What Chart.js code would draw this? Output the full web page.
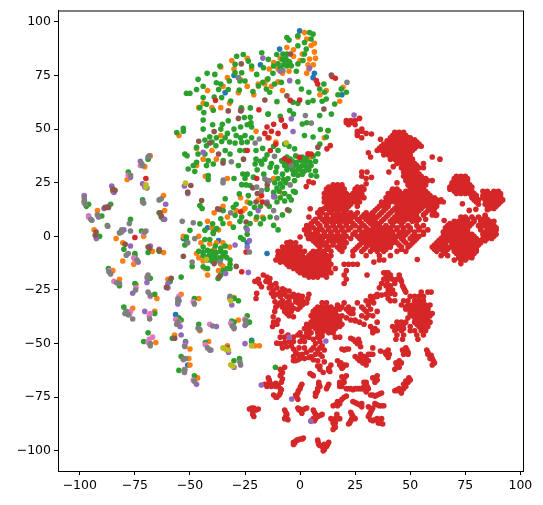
<!DOCTYPE html>
<html>
<head>
<meta charset="utf-8">
<style>
  html, body { margin: 0; padding: 0; background: #fff; }
  canvas { display: block; }
</style>
<script src="https://cdn.jsdelivr.net/npm/chart.js@4"></script>
</head>
<body>
<canvas id="tsne" width="543" height="505"></canvas>
<script>
// Tick labels
const xTicks = [-100, -75, -50, -25, 0, 25, 50, 75, 100];
const yTicks = [-100, -75, -50, -25, 0, 25, 50, 75, 100];

// Points, one list per class, [x, y]
const blue = [[-56.5,-36.5],[-22,-48.5],[-51,-60],[5.9,74],[-9.3,87.3],[-0.2,95.8],[-18,80],[-30,75],[-34,67],[-53,-1],[-37,-2],[-24,-3],[-15,-8],[-42,4],[6.5,76],[19,66]];

const orange = [
[-68,37.5],[-70.5,32.5],[-78.5,26.5],[-85,21],[-92,12],[-93.5,3],[-83.5,-1],[-71,0],[-62,19],[-61.5,12],
[-80.5,-3],[-62,-7.5],[-67,-7],[-80.5,-11.5],[-75.5,-13],[-85,-16],[-82,-20],[-74.5,-22.5],[-65,-29],[-54,-27],
[-76,-33.5],[-66,-35],[-45.5,-44],[-57,-46],[-65.5,-49.5],[-50,-52.5],[-41.5,-49],[-33,-51],[-18.5,-51],[-20.5,-51],
[-50.5,-57],[-50,-60],[-46.5,-66],[-60,-20],[-28,-39],[-46,-29],[-30,-28.5],
[-45,-3],[-41,-3.5],[-38,-3],[-35,-3],[-47,-8],[-46,-10],[-44,-11.5],[-36,-13],[-35,-14],[-43,-15],[-39,-6],[-32,-5],
[-53,0],[-46,0],[-37,3],[-42,7],[-39,11],[-29,12],[-26,12],[-35,14],[-20,8],[-17,9],[-8,20],[-24,16],
[-47,41],[-44,36],[-47,33],[-43,28],[-36,47],[-55,47],[-42,68],[-44,62],[-46,60],[-32,62],[-33,74],[-36,79],[-22,78],
[-19,71],[-16,71],[-15,73],[-12,81],[-10,78],[-14,78],[-6,88],[-3,87],[0,82],[1,85],[3,92],[5,89],[6.5,90],[3.6,80],[4.3,82.7],[4,78],
[2,95],[-1,93],[6.5,86],[7,83],[6,80],[3,76],[11.9,68],[19.5,69.5],[18,63],[12.7,49.3],[-30,78],[-24,70],[-14,46],[-11,44],[5,37],[-12,27],[11,46],[9,66],[-8,76],[-5,77],[-9,83],[-3,84],
[-31,82],[-24,83],[-27,73],[-35,70],[-40,60],[-36,60],[-28,67],[-21,66],[-13,70],[-10,72],[-8,68],[-20,49],[-40,40],[-38,36],[-33,27],[-27,18],[-19,17],[-33,9],[-25,13],[-40,4],[-32,6],[-42,-18],[-37,-16]
];

const green = [
[-6,92.7],[-5,91.5],[-1,93.5],[4.3,95],[5.9,94.3],[5,92],[2,90.4],[-1,88.9],[2.8,87.3],[-7.8,85],[2,85],[-7,82],[-4.7,81],[-1,80.4],[1.3,82],[-1.7,77],[-10,80.4],[-12.3,76],[-8.5,71.8],[-11.6,71],[-16.9,71.8],[-14.6,73.4],[-15.3,68.7],[-13.8,67.2],[-21.4,67.5],[-1,72.1],[0.6,68.7],[4,67.2],[-3.2,62.5],[-1,62],[3.6,62.5],[5.9,63.3],[-10.5,62.8],[10.8,71],[8.9,68.7],[11.1,67.2],[11.9,64],[10,63],[18.7,68.7],[17.2,66],[21,67.2],[15.7,61.7],[8.9,56.3],[14.2,57],[-4.7,58.7],[-3,57],[-14.6,57],[-22.6,59.9],[-26.7,59.9],[-22.6,55.5],[1,52.4],[3,53],[9.2,49.8],[12.7,49.3],[11.9,46.3],[5.9,46.3],[9,43],[2,47],[-2.5,40.8],[8.1,38.5],
[-8,82.5],[-6.5,83],[-5,81.5],[-7.5,80],[-6,79.5],[-4,79.5],[-9,78.5],[-6,85],[-10.6,84.8],[-14.4,82.5],[-17.4,85.6],[-19.7,75.5],[-16.6,78.6],[-12,79.4],[-18.9,70.1],
[-28.8,84],[-25.8,84.8],[-23.5,81.7],[-22,79.4],[-29.5,80.2],[-29.5,76.3],[-26.5,76.3],[-25,72.4],[-27.3,72.4],[-32.1,72.4],[-36.4,79.4],[-42.2,76],[-38.7,75.5],[-38,71.6],[-36,71],
[-46.3,73.2],[-44,70],[-47,68.5],[-51.6,66.7],[-50,66.7],[-37,68.5],[-32.6,68.5],[-27.6,68.2],[-44,64.7],[-42.5,61.6],[-45.5,60],[-43.7,57.7],[-39.4,58.8],[-39,65],[-35.6,64.7],[-31.5,63.1],
[-32.6,53.9],[-26.5,59.3],[-25.3,55.4],[-22.3,53],[-44,54.2],[-39.7,52],[-35.3,52.3],[-44,50],[-53,50.4],[-56,48.4],[-53,49],
[-36,50],[-33,48],[-30,50],[-27,51],[-24,52],[-22,51],[-34,46],[-29,47],[-27,46],[-25,47],[-24,44],[-22,46],[-38,46],[-41,46.4],[-40,44],[-32,44],[-43.2,44.9],[-35.6,44.2],[-29.5,43.5],[-26.5,43.8],
[-47,41.5],[-42.5,42.2],[-38.2,42.2],[-34,40],[-31.8,38.4],[-52.3,38.4],[-51.3,37.6],[-43.2,38.4],[-46.3,38.4],[-27.3,40],[-25,40],[-41.7,35.3],[-39.4,33.7],[-47,34.5],[-48.5,33],[-50.8,31.4],[-47.8,30.2],[-42.5,33],[-41.7,28.3],[-41.7,26.5],[-34.9,35.3],
[-20.4,33.7],[-17.4,33.7],[-19.5,31],[-16.5,29],[-13.6,32.2],[-10.6,32.2],[-8.3,35.3],[-20,36],[-16,36],[-26,29.1],[-24,29],[-21.2,27.6],[-26.5,24.1],[-24.5,24],[-22.7,23.7],[-15,22],
[-34,17.5],[-27.6,19.8],[-23.5,19],[-2.2,20.6],[-45.5,14.4],[-44.5,13],[-34.9,12],[-30.3,13.6],[-29,15],[-22.7,15.5],[-20.7,13.6],[-18,14],[-22.7,10.5],[-19.7,9],[-16.6,8.2],[-13.6,9],[-12,5.1],[-18,5.9],[-29.5,9.8],[-26.5,9],[-30.3,4.3],[-27.3,7],[-22.7,6],[-24.5,4],
[-36,8.2],[-35,6],[-39.7,5.9],[-37.9,3.6],[-39.4,2],[-45.5,5.9],[-43.2,2.8],[-50,2.8],[-51.6,-0.3],[-52.3,-4],[-51.6,-1.8],[-43.2,-1.5],[-41,-1.5],[-39.4,1.3],[-25.8,-1.5],[-27,-0.5],
[-31.8,-13],[-31.8,-15],[-31.8,-11],[-33.3,-9.9],[-44,-14.2],[-42,-15],[-34.9,-15.8],[-37.2,-19.6],[-36,-18],[-33,-15],[-49,-14],[-11.2,-61],
[-6,37],[-4.5,36],[-2,37.5],[1,37],[3,36.5],[6,37.5],[-8,35],[-6,34.5],[-3.5,35],[-1.5,34.5],[0.5,35.5],[2.5,35],[4.5,34.5],[7,35],[-7,33],[-5,32.5],[-3,33],[-1,32.5],[1,33],[3,32.5],[5,33],[-6,31],[-3.5,31],[-2,30.5],[0,31],[2,30.5],[4,31],[7,30.5],[-3,29],[-1,28.5],[1,29],[5,28.5],[7.5,28],[-18,35],[-13,34],[-11,30],[-8,29],
[-10,27],[-7.5,26.5],[-5.5,27],[-2.5,26],[-11.5,25],[-9,24.5],[-6.5,25],[-10.5,22.5],[-8,23],[-12,20.5],[-9.5,21],[-7,20],[-3,21],[-11.5,18.5],[-9,18],[-5,18.5],[-10.5,16],[-7,16.5],[-4,17],
[-44,-5],[-38.5,-4.5],[-36,-5.5],[-34,-4.5],[-46,-7],[-44,-7.5],[-42,-6.5],[-40,-7],[-38,-7.5],[-36,-7],[-34,-7.5],[-44,-9],[-42,-9.5],[-41,-8.5],[-40,-9.5],[-39,-9],[-37,-10],[-35,-9],[-42,-11],[-40,-11.5],[-38,-11],[-36,-10.5],
[-14.4,57],[-9,56],[-5,42],[-7,43],[-20,40],[-17,41],[-12,42],[-10,40],[-15,38],[-28,33],[-30,27],[-25,27],[-5,12],[-8,10],[-14,14],[-24,1],[-10,3],
[-98,16],[-96,15],[-97,14],[-86,15],[-90,9.5],[-87.5,5],[-91,0],[-81,2],[-77,8],[-72,2.5],[-78,30],[-69,36],[-71.5,17],[-64,11],[-62,8],[-63,9],[-64,-7],[-69,-7.5],[-80,-6],[-75,-8],[-87,-15],[-82,-23],[-68,-19.5],[-59,-21],[-66,-27],[-80,-33],[-66,-36],[-55,-38],[-54,-39],[-46,-41],[-30,-40],[-31,-39.5],[-24,-37],[-23,-40],[-69,-45],[-71,-49],[-58,-47.5],[-52,-49],[-43,-49.5],[-22,-49],[-54,-56],[-55,-62.5],[-48,-65],[-30,-58],[-27.5,-57],[-30,-29],[-28,-30],[-48,-29],[-54,-19],[-75,-9],[-75,-22],[-55,-30]
];

const red = [
[39.5,44.6],[36.5,45.3],[32.4,47.7],[60,37],[63.5,36],[56,34],[56,32],[42.3,32.5],[40.3,30],[31,39],[32,37],[26,49],[28,50],[30,48],[26,47],[28,46],
[21,53],[23,54],[25,54],[27,55],[22,52],[25,52],[23,53],[28,30],[30.4,30],[32.4,27.5],[28,28],[30,27],[30,24.5],[41.8,21.4],[44,25],[4.6,12.9],[9.2,12.4],
[73.7,15.2],[76.8,12.1],[79.8,12.6],[85,12.4],[84,9.8],[73,-12.7],[70,-11],[53.2,-10.8],[65.4,7.4],[61.6,9.8],[57,8],
[-4.5,-2.6],[0,-0.3],[3.8,-1],[20,-13],[22,-13],[24,-13],[26,-13],[21,-16],[20,-18],[21,-20],[20,-22],[30.4,-18],[33.5,-12],[36,-11],[38,-11],[38,-17],[40,-17],[39,-19],[41,-19],[39.5,-22],[45.6,-20],[45,-18],
[-20.5,-21],[-18.5,-22],[-17.5,-23.5],[-16.7,-18],[-15,-19],[-13.7,-19.7],[-12.9,-22.8],[-14,-24],[-12.2,-25],[-10.5,-24],[-9.1,-26],[-8,-24.5],[-7,-27],[-5,-25.5],[-4,-28],[-2,-29],[-0.8,-27.5],[-19.7,-26.6],[-20,-29],
[-11.4,-30.5],[-10,-32],[-8,-30],[-6,-31],[-8,-33],[-6,-34],[-4,-32],[-2,-30.5],[-4,-35],[-3,-37.5],[-6,-36],[0,-33],[2,-31],[3.5,-29],[1,-30],[-1,-34],[-12.2,-37.5],[-11.5,-35],[-12,-40],[-10,-39],
[17,-32],[18,-34],[20,-31],[21,-34],[23,-36],[19,-37],[22,-33],[24,-34],[21,-38],[26,-31],[28,-33],[30,-35],[32,-34],[30,-30],[32,-30],[34,-28],[35,-27],[30,-38],[28,-37],[23,-39],[25,-39.5],[27,-40],[29,-41],
[32,-28],[35,-28],[33.4,-31],[31,-36.7],[33,-37],[35,-35],[35,-40],[32,-42],[34,-43],[33,-45],[35,-44],[37,-27.4],[39,-27],[41,-26.6],[41,-30],[39,-17],[41,-18],[38,-20],[40,-20],[42,-20],[39,-23],[41,-23],[43,-22],[36,-24],[45,-19.5],[46,-21],[47,-24],[48,-26],
[-8.4,-44.4],[-10.6,-49.8],[-7,-47],[-5.5,-46],[-1,-46],[-8,-52],[-6,-51.5],[-4,-51],[-3,-49],[-2,-54],[-3,-56],[-2,-58],[-0.5,-52],[1,-47],[2,-49],[2,-52],[1,-55],[-1,-57.5],[0,-57],[2,-57],[4,-56.5],
[5,-53],[7,-50],[8,-53],[7,-55],[5,-56],[9,-55],[10,-56],[8,-47],[10,-51],[11,-58.5],[10,-46.5],[8,-44],[19,-52.5],[21,-52.5],[22,-52.5],[23,-47.5],[25,-49],[27,-49.5],[27.5,-51.5],[33,-52],
[25,-56],[27,-57],[28.5,-59],[30,-60],[30,-57],[31,-55],[33,-55],[29,-58],[27.5,-55],[36.5,-53.5],[38.5,-54],[40,-53],[40.5,-55],[40,-56.5],[46.5,-53],[48.5,-53],[47,-55],[49,-55],[48,-52],
[43.5,-59],[45,-58],[44,-61],[45,-61],[43,-62],[57.5,-53],[58,-55],[59,-57],[60.5,-58],[60,-60],[61,-59],[17,-58],[18,-60],[20,-60],[21,-60],[19,-61.5],[8,-60.5],[9,-62],[10.5,-63.5],[13,-61.5],[13.5,-63],[14,-60],[4.5,-64],[6,-65],
[-9,-62],[-8,-63.5],[-9,-65],[-8,-66.5],[-7,-61],[-14.4,-66],[-14,-68],[-16,-69],[-12.5,-69],[-10,-69.5],[-9,-71],[-11,-70],[-12,-74],[-10.5,-75],[-9,-73],[-8.5,-71.5],[0.8,-69],[-0.8,-72],[-1.5,-75],[0,-71],[-2,-74],
[8.5,-68],[9,-70],[8,-72],[7,-73],[7,-74.5],[13,-69],[12,-71],[19,-65.5],[21,-65],[18,-68],[20,-68],[18,-70],[22,-71],[24,-71.5],[26,-71],[28,-71],[29,-70],[30,-69],[31,-71],[30,-72.5],[29,-68],
[33,-66],[35,-65],[35,-67],[34,-68],[32,-74],[34,-74.5],[36,-73.5],[37,-73],[49.4,-66],[43,-72],[45,-71],[47,-71],[46,-73],[48,-68.5],[49,-68],[50,-67],[47,-69],[44.5,-72],
[15,-79],[17,-79],[17,-77],[19,-76],[21,-74.5],[18,-78],[24,-77],[26,-78],[28,-78],[28,-79.5],[-1,-80],[1,-81],[3,-80],[0.8,-82.5],[-0.5,-81],
[-23,-80.5],[-21,-80],[-19,-80.5],[-21.5,-82],[-21,-84],[-7,-81],[-6,-83],[-7,-85],[-5.5,-85.5],[6,-81],[7,-83],[8,-84],[10,-83],[6.5,-86],[5,-86],
[14,-85],[16,-85],[18,-85],[15,-87],[16,-89],[15,-90],[16.7,-83],[23,-82],[24,-84],[23,-86],[22,-87.5],[25,-85],[34,-78],[36,-79],[38,-79],[33,-80],[32,-82],[31,-84],[33,-86],[35,-85],[37,-85],[37.5,-87.5],[35.5,-87],[31,-79.5],
[-3,-96],[-1.5,-95],[0,-94.5],[1.5,-94],[-3,-97],[8,-95],[8.5,-97],[10,-98],[11,-99.5],[12,-98],[13,-96],[10.5,-100],
[-75,-0.5],[-70,27],[-26.5,-16.5],[-24.5,-7.3],[-38.4,63.4],[-4.5,63.4],[-0.2,63.6],[-18.7,59],[-8.5,54.3],[-7,51.7],[-12,52.3],[-6.8,51.2],[-15,51],[-16,48],[-13,49],[-10,48],[-14.5,46],[-11,43],[-13.5,40],[-24,40],[-7,36.2],[-5,35],[-19.7,27],[-17.5,19],[-17,16],[-27,11.5],
[7.4,72.6],[8,71],[16,73.7],[14.5,74.5],[3.6,38.5],[5,38.4],[-0.3,36.8],[12.2,40.8],[13.7,42.3],[4,25.5],[2.8,23.2],[6,25],[26,47.8],[28,49],[21,54],
[-19,-20],[-15.5,-21],[-14,-21.5],[-11,-22],[-13,-26.5],[-11,-27],[-9,-28],[-7,-25],[-6,-28],[-5,-30],[-3,-27],[-1,-31],[-7,-32],[-5,-33],[-3,-33.5],[-7,-35],[-5,-37],[-11,-33],[-9,-31],[-12,-28],[1,-28],[3,-31],[4,-27],[-1,-29],[1,-32],[-12.5,-42],[-10.5,-41],
[-9,-47],[-9,-50],[-7,-49.5],[-5,-49],[-3,-47],[0,-49],[0,-45],[-3,-52.5],[-1,-55],[-3,-58],[3,-54],[6,-52],[6,-48],[9,-49],[8,-58],[6,-57.5],[9,-52],[11,-53],
[20,-53],[24,-48],[26,-50],[26.5,-48],[27,-58],[26,-57],[29,-56],[32,-55],[31,-58],[39,-55],[47,-54],[49,-54],[44,-60],[46,-59],[58,-54],[59.5,-55.5],[60,-57],[18.5,-59],[19.5,-61],[9,-60.5],[13,-62.5],[5.5,-64.5],
[-8.5,-62.5],[-8.7,-64.5],[-8.5,-68],[-14,-67],[-15,-70],[-13,-70],[-11,-68.5],[-11,-75],[-9.5,-74],[0.2,-70],[-1,-73],[-1,-76],[8.5,-69],[8,-71],[7.5,-73],[12.5,-70],[20,-66],[19,-68],[18,-69],[19,-70],[21,-71],[23,-71],[25,-71],[27,-71],[29.5,-71.5],[30.5,-70],[30,-68],[34,-66],[33,-74],[35,-74],[44,-71.5],[46,-71.5],[48,-70],[49.5,-66.5],[48,-67.5],
[16,-78.5],[18,-77],[20,-75],[25,-77.5],[27,-78.5],[0,-80.5],[2,-80.5],[-22,-80],[-20,-81],[-21.5,-83],[-6.5,-82],[-6.5,-84],[-6,-85],[6.5,-82],[7.5,-84],[9,-83.5],[6,-85],[7,-85],[15,-86],[17,-85],[16,-87],[15.5,-88],[23.5,-83],[23.5,-85],[22.5,-87],[35,-78.5],[37,-79],[32.5,-81],[31.5,-83],[32,-85.5],[34,-85.5],[36,-85.5],[36.5,-87],[-2,-95.5],[-1,-95],[1,-94.5],[8.2,-96],[9,-97.5],[11,-98.5],[12.5,-97],[11,-97],[-2.5,-96.5],
[17,-33],[19,-33],[24,-36],[22,-35],[29,-34],[31,-32],[33,-29],[25,-39],[34,-44],[33,-43.5],[40,-25],[42,-25],[43,-27],[40,-29],[37,-22],[44,-20],[46.5,-23],[47.5,-25]
];

// dense parts of the red class, rows are [y, x, x, x...]
const redRows = [
[48.5, 43,45,47],[46, 41,43,45,47,49,50],[44, 41,43,45,47,49,51,53],[42, 37,39,41,43,45,47,49,51,53,55],[40, 35,37,39,41,43,45,47,49,51],[38, 38,40,42,44,46,48,50],
[36, 41,43,45,47,49,51],[34, 44,46,48,50,52],[32, 46,48,50,52,54],[30, 47,49,51,53],[28, 47,49,51,53,55],[26, 48,50,52,54,56,58,60],[24, 49,51,53,55,57],[22, 42,44,50,52,54,56],
[47, 42,44,46,48],[45, 42,44,46,48,50,52],[43, 38,40,42,44,46,48,50,52,54],[41, 36,38,40,42,44,46,48,50,52],[39, 39,41,43,45,47,49],[37, 42,44,46,48,50],[35, 45,47,49,51],[33, 47,49,51,53],[31, 48,50,52],[29, 48,50,52,54],[27, 49,51,53,55,57],[25, 50,52,54,56],[23, 50,52,54,55],
[20, 40,42,44,46,48,50,52,54,56,58],[18, 39,41,43,45,47,49,51,53,55,57,59,61],[16, 37,39,41,43,47,49,51,53,55,57,59,61,63,65],[14, 36,38,40,44,46,48,50,52,54,56,58,60,62],
[12, 34,38,42,44,46,48,50,52,54,58,60],[10, 32,36,40,44,46,48,50,52,56,60,62],[8, 30,34,38,42,44,46,48,50,52,54],
[21, 43,45,48,51,53,55,57],[19, 41,43,45,47,49,51,53,55,57,59],[17, 40,42,45,48,50,52,54,56,58,60,62,64],[15, 37,39,45,47,49,51,53,55,57,59,61],[13, 35,39,43,45,47,49,51,53,55,59,61],[11, 33,37,41,45,47,49,51,53,57,61],[9, 31,35,39,43,45,47,49,51,53],[7, 33,37,41,43,45,47,51,53],
[24, 15,17,19],[22, 12,14,16,18,20,25,27,29],[20, 11,13,15,17,19,21,24,26,28],[18, 11,13,15,17,19,21,23,25,27,29],[16, 11,13,15,17,19,21,23,25,27],[14, 12,14,16,18,20,22,26],[12.5, 10,13,15,19,21],
[23, 13,15,17,19,26,28],[21, 12,14,16,18,20,25,27],[19, 12,14,16,18,20,22,24,26,28],[17, 12,14,16,18,20,22,24,26],[15, 13,15,17,19,21,23],[13, 11,14,16,18,20],
[11, 8,10,14,17,20,23,26,30,33],[9, 4,9,12,15,18,21,24,28,32],[7, 6,11,14,17,20,23,27,31],[5, 3,5,9,12,15,18,21,25,29,33,36,39,42,46,49,53,56],[3, 2,4,8,10,13,16,19,22,27,31,33,35,37,39,41,44,47,50,54,58],
[1, 3,5,8,11,14,17,20,24,28,30,32,34,36,38,40,42,45,48,52,56],[-1, 5,8,10,13,16,19,23,27,29,31,33,35,37,39,41,43,46,50,53],[-3, 7,9,12,15,18,21,28,30,32,34,36,38,40,42,44,48,51],[-5, 9,13,17,20,26,30,33,35,37,39,41,46,49],[-7, 14,19,24,28,32,35,38,44,48],[-9, 24,30,36,41],
[10, 9,12,16,19,22,25,29,33],[8, 7,10,13,16,19,22,26,30],[6, 5,8,12,15,18,21,24,28,32,35],[4, 3,6,9,13,16,19,23,27,30,34,36,38,41,44,47,50,54],[2, 4,7,11,14,17,20,25,29,32,34,36,38,40,42,46,49,52,56],[0, 6,9,12,15,18,21,26,30,32,34,36,38,40,42,44,47,51,54],[-2, 6,10,14,17,20,28,30,32,34,36,38,40,43,47,52],[-4, 8,11,15,19,27,31,33,35,37,39,41,45,50],[-6, 12,18,25,29,33,36,39,46],
[28, 71,73,75],[26, 70,72,74,76],[24, 69,71,73,75,77],[22, 68,70,72,74,76],[20, 71,73,75,77,79],[21, 83,85,88,90],[19, 78,80,83,85,87,89,91],[17, 79,81,84,86,88,90,92],[15, 81,84,86,88,90],[13, 86,88],
[27, 70,72,74,76],[25, 69,71,73,75],[23, 68,70,72,74,76,78],[21, 70,72,74,76,78],[20, 84,87,89,91],[18, 78,80,83,85,87,89,91],[16, 80,85,87,89,91],[14, 85,87,89],
[9, 73,75,78,81,84],[7, 70,72,74,76,79,82,84,86,88],[5, 67,69,71,73,75,77,81,84,86,88],[3, 66,68,70,72,74,76,82,85,87,89],[1, 66,68,70,72,75,78,83,85,87,89],[-1, 64,66,69,71,73,75,77,80,83,85,87],[-3, 62,64,66,69,72,74,76,78,80,82],[-5, 60,62,65,68,72,74,76,78,80],[-7, 62,66,70,72,74,76,78,80],[-9, 64,67,72,74,76,78],[-11, 73,75],
[8, 74,76,79,82,85],[6, 68,71,73,75,78,83,85,87],[4, 66,68,70,72,74,76,82,85,87,89],[2, 65,67,69,71,73,76,84,86,88],[0, 65,67,70,72,74,76,79,84,86,88],[-2, 63,65,67,70,72,74,76,78,81,84],[-4, 61,63,66,69,71,73,75,77,79,81],[-6, 61,64,67,70,72,74,76,78,80],[-8, 65,71,73,75,77,79],[-10, 72,74,76,78],
[-3, -6,-4,-2],[-5, -8,-6,-4,-2,0],[-7, -10,-8,-6,-4,-2,0,2,6,8,10],[-9, -10,-8,-6,-3,-1,1,4,6,8,10,12,14],[-11, -11,-9,-7,-5,-3,-1,1,3,5,7,9,11,13],[-13, -6,-4,-2,0,2,4,6,8,10,12,14],[-15, -3,-1,1,3,5,7,9,11,13,16],[-17, 0,2,4,6,8,10,12,14],[-19, 4,6,8,12],
[-6, -7,-5,-3,-1],[-8, -9,-7,-5,-2,0,5,7,9,11],[-10, -10,-8,-6,-4,-2,0,2,5,7,9,11,13],[-12, -9,-7,-5,-3,-1,1,3,5,7,9,11,13],[-14, -5,-3,-1,1,3,5,7,9,11,13],[-16, -1,1,3,5,7,9,11,13],[-18, 2,4,6,8,10],
[-31, 10,12],[-33, 8,10,12,14],[-35, 6,8,10,12,14,16],[-37, 5,7,9,11,13,15,17],[-39, 6,8,10,12,14,16,18],[-41, 3,5,7,9,11,13,15,17,19],[-43, 2,4,7,9,11,14,16],[-45, 3,5,8,10,13,15],[-47, 2,4,9,16,18],
[-34, 7,9,11,13,15],[-36, 6,8,10,12,14,16],[-38, 6,8,10,12,14,16],[-40, 5,7,9,11,13,15,17],[-42, 3,5,8,10,12,14,16,18],[-44, 4,8,10,12,15],
[-26, 55,58,59.5],[-28, 50,52,54,56],[-30, 43,47,49,52,54,56],[-32, 46,49,51,53,55,57,59],[-34, 48,50,52,54,56,58],[-36, 50,52,54,56,58,60],[-38, 49,52,54,56,58],[-40, 44,46,48,52,55,57,59],[-42, 42,44,46,50,54,56,58],[-44, 43,46,50,52,55,57],[-46, 44,47,53,56],[-48, 43.5,46.5,53.5],
[-33, 48,50,52,54,56,58],[-35, 50,52,54,56,58],[-37, 51,53,55,57,59],[-39, 53,55,57],[-41, 45,47,53,55,57],[-43, 44,47,55,57]
];

const purple = [
[-72.5,35],[-77,27.5],[-85.5,23.5],[-84.5,20.5],[-98,19],[-89,13],[-87,14],[-96,9.5],[-92.5,-1],[-80,3],[-70.5,23],[-71.5,24.5],[-61,15],[-61.5,8],[-52.5,23.5],[-51,20],
[-77,-4.5],[-68,-4.5],[-64,-6],[-73.5,-12],[-76,-26.5],[-69.5,-21.5],[-60,-22],[-60,-24],[-55.5,-31.5],[-31,-32],[-70.5,-35],[-54.5,-42],[-38,-42],[-30,-43],[-25,-41.5],[-54,-46],[-52,-49.5],[-40.5,-53],[-32.5,-54],[-25,-50],[-30,-61],[-47,-69],
[-23.5,-16.8],[-33.8,-17.3],[-4.9,-47],[11.7,-48.8],[-17.6,-69.3],[-3.8,-75.8],[4.9,-86.2],[24.5,56.6],
[-16.9,83.1],[-9,77],[-4.7,72.6],[4.3,78.5],[-26.8,58.5],[-4,54.8],[-3.2,48.9],[-44,39.2],[-15,16],[-29.5,-4],[-12,18.5],[-19,12],[-24,3],[-23,-2],[-24,-5]
];

const brown = [
[-85,22],[-84,21.5],[-88.5,13.5],[-87,13.5],[-92.6,2],[-93,0.5],[-49.6,23.7],[-51,20.6],[-44.7,16.7],[-37.4,12.8],[-63.5,11],[-63,9.5],
[-79.4,-3.7],[-68.3,-5.7],[-69,-5],[-64,-6.5],[-58.5,-19.5],[-60.7,-23.8],[-56.9,-47.5],[-24.8,-39],[-33,-52],[-53,-9.3],[-39,-12.7],[-29,-14],[-36.7,-18.9],
[-26.7,80.4],[-4.4,85],[14.2,75.2],[-6,65.5],[-16,63.6],[10.8,59.4],[8.1,41.6],[-27,58.6],[-32.6,58.5],[-28,55],[-39,48.9],[-46,44.3],[-41,43.5],[-37,38.4],[-35,34.2],[-25.7,36],[-15,25.9],[-14.9,24],[-21.5,22.6],[-19.4,20],[-15.1,15.2],[-20,16],[-5.7,12.4],[-24.5,6.7],[-36.5,12.5]
];

const pink = [
[-72.5,33],[-78,28.5],[-98,15.5],[-96,9],[-81.5,2],[-71,1.5],
[-75,-11],[-75.5,-10],[-86.5,-16],[-84.5,-21],[-74.5,-24],[-69.5,-19],[-68,-28],[-55.5,-29],[-48.5,-30.5],[-32,-29],[-77,-35],[-77.5,-36.5],[-68.5,-37],[-68,-36],[-56.5,-38.7],[-55,-40],[-41,-41],[-31.5,-40.5],[-25,-38.5],
[-68.5,-48],[-67,-47],[-69,-49.5],[-52.5,-51],[-43,-50.5],[-53,-57.5],[-52.5,-62],[-48.5,-67],[-55,-28]
];

const gray = [
[-69,37],[-68.5,37.5],[-72,34],[-71.5,33],[-77,28.5],[-97.9,16.7],[-97.5,15],[-98,18],[-91.5,9],[-92,10],[-95,8],[-94.5,7.5],[-87.3,4.7],[-82,1.6],[-81,3],[-77,2.5],[-77.5,6],[-70.6,2],[-70,2.5],[-71.5,16],[-71,15.5],[-63,17.5],[-64,17],[-69.5,22.5],[-34.9,26.3],[-35,25],
[-78.9,-8.8],[-78,-8],[-74,-11],[-86.8,-16.5],[-86,-17.5],[-83.2,-21.6],[-82,-22],[-74.7,-25],[-69.3,-19.6],[-69,-18],[-68,-27.4],[-69,-26],[-55.4,-29.2],[-55.5,-30.5],[-48,-31.5],[-31.8,-28],
[-79,-35],[-79.5,-36],[-78,-36.5],[-76,-38.5],[-68.3,-38.5],[-56,-41],[-55.5,-40],[-46.3,-42.8],[-45.5,-43.5],[-39.7,-41.8],[-30.8,-41.8],[-30,-42.5],[-24.8,-39.3],[-24.5,-41],[-68,-51],[-68,-50],[-52.3,-51.3],[-42,-52],[-41,-53],[-22,-50.9],[-53,-57.2],[-52,-57],[-52.3,-62.2],[-52.5,-63.5],[-48,-67.6],[-27.3,-58.6],[-27,-60],
[-23,-7.3],[-49,-12],[-36.4,-11.9],[-28,74],[-7.8,77.3],[21.3,71.8],[2.4,56.3],[5.1,52.8],[-31.2,34.8],[-18.5,45.4],[-20.4,43.5],[-11.6,37.3],[-16,26.8],[-14,26],[-17.5,21.3],[-19.7,23],[-4.5,24],[-4,33],[-12,12],[-10.6,8.7],[-31.5,11],[-48.5,6.3],[-53.5,7],[-47.8,-1],[-51,-3]
];

const olive = [[-70,23],[-52,24.8],[-6.3,43.6],[-42.5,-10.7],[-31.5,-30],[-33.8,-52.6],[-35,-52],[-32.5,-53],[-22,-51],[-31.5,-59.9],[-30.5,-60.5],[-70,24]];

const seriesNames = ['blue', 'orange', 'green', 'red', 'purple', 'brown', 'pink', 'gray', 'olive'];
const seriesColors = ['#1f77b4', '#ff7f0e', '#2ca02c', '#d62728', '#9467bd', '#8c564b', '#e377c2', '#7f7f7f', '#bcbd22'];

function fromRows(rows) {
    const pts = [];
    rows.forEach(row => {
        row.slice(1).forEach(x => pts.push([x, row[0]]));
    });
    return pts;
}

const seriesPoints = [blue, orange, green, red.concat(fromRows(redRows)), purple, brown, pink, gray, olive];

// Chart.js draws low order last, so later classes end up on top like in the original
const datasets = seriesNames.map((name, i) => ({
    label: name,
    data: seriesPoints[i].map(p => ({ x: p[0], y: p[1] })),
    backgroundColor: seriesColors[i],
    borderWidth: 0,
    pointRadius: 2.8,
    order: seriesNames.length - i
}));

const minusSign = v => String(v).replace('-', '\u2212');

// top and right spines
const frame = {
    id: 'frame',
    afterDraw(chart) {
        const a = chart.chartArea;
        const ctx = chart.ctx;
        ctx.save();
        ctx.strokeStyle = '#000';
        ctx.lineWidth = 1;
        ctx.strokeRect(a.left + 0.5, a.top + 0.5, a.right - a.left, a.bottom - a.top);
        ctx.restore();
    }
};

const tickFont = { family: '"DejaVu Sans"', size: 12.5 };

new Chart(document.getElementById('tsne'), {
    type: 'scatter',
    data: { datasets: datasets },
    plugins: [frame],
    options: {
        responsive: false,
        animation: false,
        layout: { padding: { left: 0, top: 9, right: 20, bottom: 0 } },
        plugins: { legend: { display: false }, tooltip: { enabled: false } },
        scales: {
            x: {
                min: -109.9,
                max: 101.2,
                afterBuildTicks: axis => { axis.ticks = xTicks.map(v => ({ value: v })); },
                afterFit: axis => { axis.height = 34; },
                grid: { drawOnChartArea: false, color: '#000', tickLength: 4 },
                border: { color: '#000' },
                ticks: { color: '#000', font: tickFont, maxRotation: 0, autoSkip: false, padding: 3, callback: minusSign }
            },
            y: {
                min: -109.4,
                max: 105.3,
                afterBuildTicks: axis => { axis.ticks = yTicks.map(v => ({ value: v })); },
                afterFit: axis => { axis.width = 58; },
                grid: { drawOnChartArea: false, color: '#000', tickLength: 4 },
                border: { color: '#000' },
                ticks: { color: '#000', font: tickFont, autoSkip: false, padding: 3, callback: minusSign }
            }
        }
    }
});
</script>
</body>
</html>
